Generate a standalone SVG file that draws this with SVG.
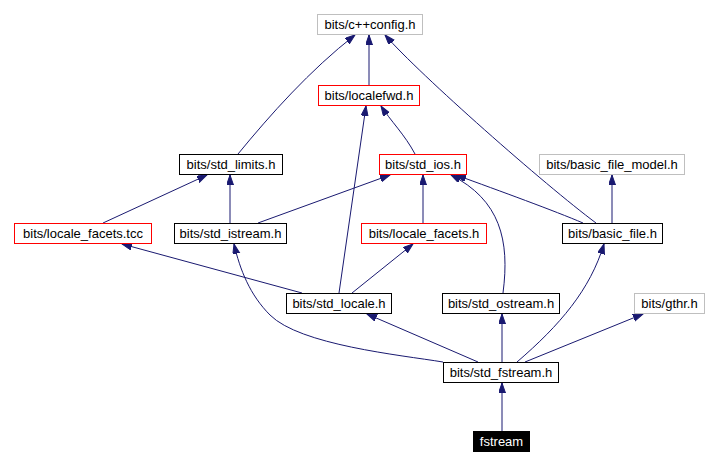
<svg xmlns="http://www.w3.org/2000/svg" width="717" height="465" viewBox="0 0 717 465">
<style>
.box{fill:#ffffff;stroke:#000000;stroke-width:1}
.red{stroke:#ff0000}
.gray{stroke:#bfbfbf}
.blk{fill:#000000;stroke:#000000}
text{font-family:"Liberation Sans",Arial,sans-serif;font-size:13px;fill:#000000;text-anchor:middle}
.wt{fill:#ffffff}
.edge{fill:none;stroke:#191970;stroke-width:1;marker-end:url(#arr)}
</style>
<defs>
<marker id="arr" markerUnits="userSpaceOnUse" markerWidth="11" markerHeight="8" refX="10" refY="3.5" orient="auto">
<path d="M0,0 L10,3.5 L0,7 z" fill="#191970" stroke="#191970" stroke-width="1"/>
</marker>
</defs>
<rect width="717" height="465" fill="#ffffff"/>
<g id="edges">
<path class="edge" d="M369,85 L369,35"/>
<path class="edge" d="M238,154 C270,115 310,70 355,35"/>
<path class="edge" d="M596,223 C545,185 420,75 385,35"/>
<path class="edge" d="M415,154 C405,135 390,120 381,106"/>
<path class="edge" d="M339,293 L366,106"/>
<path class="edge" d="M103,223 L207,175"/>
<path class="edge" d="M230,223 L230,175"/>
<path class="edge" d="M258,223 L390,175"/>
<path class="edge" d="M423,223 L423,175"/>
<path class="edge" d="M583,223 C555,211 500,191 456,175"/>
<path class="edge" d="M503,293 C510,240 500,200 451,175"/>
<path class="edge" d="M612,223 L612,175"/>
<path class="edge" d="M302,293 L122,244"/>
<path class="edge" d="M352,293 L413,244"/>
<path class="edge" d="M443,362 C400,355 300,345 270,315 C250,295 240,270 234,244"/>
<path class="edge" d="M478,362 L367,314"/>
<path class="edge" d="M502,362 L502,314"/>
<path class="edge" d="M517,362 C560,325 590,290 604,244"/>
<path class="edge" d="M525,362 L643,314"/>
<path class="edge" d="M502,431 L502,383"/>
</g>
<g id="n_cppconfig"><rect class="box gray" x="317.5" y="14.5" width="105" height="20"/><text x="370" y="29">bits/c++config.h</text></g>
<g id="n_localefwd"><rect class="box red" x="318.5" y="85.5" width="101" height="20"/><text x="369" y="100">bits/localefwd.h</text></g>
<g id="n_std_limits"><rect class="box" x="179.5" y="154.5" width="103" height="20"/><text x="231" y="169">bits/std_limits.h</text></g>
<g id="n_std_ios"><rect class="box red" x="379.5" y="154.5" width="87" height="20"/><text x="423" y="169">bits/std_ios.h</text></g>
<g id="n_basic_file_model"><rect class="box gray" x="539.5" y="154.5" width="145" height="20"/><text x="612" y="169">bits/basic_file_model.h</text></g>
<g id="n_locale_facets_tcc"><rect class="box red" x="14.5" y="223.5" width="137" height="20"/><text x="83" y="238">bits/locale_facets.tcc</text></g>
<g id="n_std_istream"><rect class="box" x="174.5" y="223.5" width="112" height="20"/><text x="230.5" y="238">bits/std_istream.h</text></g>
<g id="n_locale_facets_h"><rect class="box red" x="361.5" y="223.5" width="125" height="20"/><text x="424" y="238">bits/locale_facets.h</text></g>
<g id="n_basic_file"><rect class="box" x="562.5" y="223.5" width="100" height="20"/><text x="612.5" y="238">bits/basic_file.h</text></g>
<g id="n_std_locale"><rect class="box" x="286.5" y="293.5" width="105" height="20"/><text x="339" y="308">bits/std_locale.h</text></g>
<g id="n_std_ostream"><rect class="box" x="442.5" y="293.5" width="117" height="20"/><text x="501" y="308">bits/std_ostream.h</text></g>
<g id="n_gthr"><rect class="box gray" x="634.5" y="293.5" width="70" height="20"/><text x="669.5" y="308">bits/gthr.h</text></g>
<g id="n_std_fstream"><rect class="box" x="443.5" y="362.5" width="115" height="20"/><text x="501" y="377">bits/std_fstream.h</text></g>
<g id="n_fstream"><rect class="box blk" x="473.5" y="431.5" width="56" height="20"/><text class="wt" x="501.5" y="446">fstream</text></g>
</svg>
